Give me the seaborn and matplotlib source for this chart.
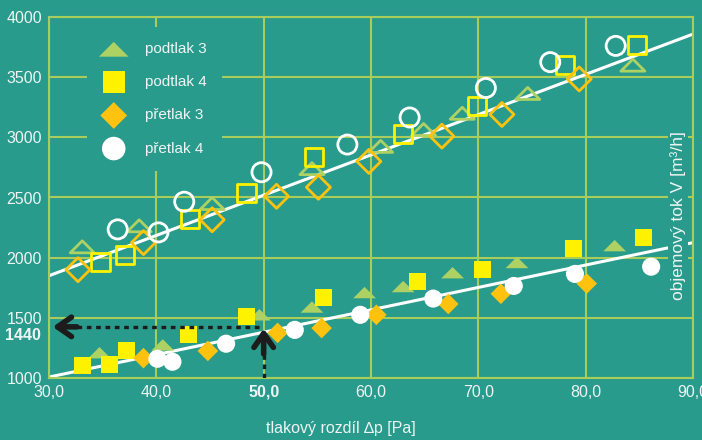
import numpy as np
import pandas as pd
import seaborn as sns
import matplotlib.pyplot as plt
from matplotlib.path import Path

# values: tlakovy rozdil [Pa] -> objemovy tok [m3/h]
# upper group is drawn hollow, lower group filled
pod3_hi_x = [33.1, 38.4, 45.2, 54.5, 60.9, 64.9, 68.5, 74.6, 84.4]
pod3_hi_y = [2090, 2265, 2450, 2740, 2925, 3065, 3200, 3365, 3600]
pod4_hi_x = [34.8, 37.1, 43.1, 48.4, 54.7, 63.0, 69.9, 78.1, 84.8]
pod4_hi_y = [1965, 2025, 2325, 2540, 2840, 3025, 3260, 3600, 3765]
pre3_hi_x = [32.7, 38.8, 45.2, 51.2, 55.1, 59.8, 66.6, 72.2, 79.4]
pre3_hi_y = [1900, 2125, 2315, 2510, 2585, 2800, 3010, 3190, 3485]
pre4_hi_x = [36.4, 40.2, 42.6, 49.8, 57.8, 63.6, 70.7, 76.7, 82.8]
pre4_hi_y = [2235, 2210, 2465, 2710, 2940, 3165, 3410, 3625, 3760]

pod3_lo_x = [34.7, 40.6, 49.6, 54.5, 59.4, 63.0, 67.6, 73.6, 82.7]
pod3_lo_y = [1210, 1275, 1525, 1590, 1710, 1760, 1875, 1960, 2100]
pod4_lo_x = [33.1, 35.6, 37.2, 43.0, 48.4, 55.6, 64.3, 70.4, 78.9, 85.4]
pod4_lo_y = [1100, 1110, 1225, 1365, 1510, 1665, 1800, 1900, 2075, 2165]
pre3_lo_x = [38.8, 44.8, 51.3, 55.4, 60.5, 67.2, 72.1, 80.1]
pre3_lo_y = [1165, 1225, 1375, 1415, 1525, 1615, 1700, 1785]
pre4_lo_x = [40.1, 41.5, 46.5, 52.9, 59.0, 65.8, 73.3, 79.0, 86.1]
pre4_lo_y = [1160, 1135, 1285, 1400, 1525, 1660, 1765, 1865, 1925]

# trend lines (end points)
fit_x = [30, 90]
fit_hi_y = [1850, 3858]
fit_lo_y = [1008, 2125]

labels = ["podtlak 3", "podtlak 4", "přetlak 3", "přetlak 4"]
x_ticks = [30, 40, 50, 60, 70, 80, 90]
y_ticks = [1000, 1500, 2000, 2500, 3000, 3500, 4000]
mark_x, mark_y = 50, 1425   # the 50,0 Pa -> 1440 m3/h reading

bg = "#289b8d"
grid_c = "#a9cd5a"
txt_c = "#eef5f3"
colors = ["#add163", "#fff200", "#ffc20e", "#ffffff"]
flat_tri = Path([(-1, -0.5), (1, -0.5), (0, 0.5), (-1, -0.5)],
                [Path.MOVETO, Path.LINETO, Path.LINETO, Path.CLOSEPOLY])
markers = [flat_tri, "s", "D", "o"]
sizes_lo = [270, 150, 110, 170]
sizes_hi = [300, 170, 150, 190]

sns.set_style("white", {"axes.facecolor": bg, "figure.facecolor": bg})
plt.rcParams["font.family"] = ["Liberation Sans", "DejaVu Sans"]

fig = plt.figure(figsize=(7.02, 4.4), dpi=100)
ax = fig.add_axes([49 / 702, 62 / 440, 644 / 702, 361 / 440])

sns.lineplot(x=fit_x, y=fit_hi_y, color="white", lw=2.2, ax=ax, zorder=2)
sns.lineplot(x=fit_x, y=fit_lo_y, color="white", lw=2.2, ax=ax, zorder=2)

hi = [(pod3_hi_x, pod3_hi_y), (pod4_hi_x, pod4_hi_y), (pre3_hi_x, pre3_hi_y), (pre4_hi_x, pre4_hi_y)]
lo = [(pod3_lo_x, pod3_lo_y), (pod4_lo_x, pod4_lo_y), (pre3_lo_x, pre3_lo_y), (pre4_lo_x, pre4_lo_y)]

for (xs, ys), c, m, s in zip(hi, colors, markers, sizes_hi):
    sns.scatterplot(x=xs, y=ys, marker=m, s=s, facecolor="none", edgecolor=c,
                    linewidth=2, ax=ax, zorder=3)

for (xs, ys), c, m, s, lab in zip(lo, colors, markers, sizes_lo, labels):
    sns.scatterplot(x=xs, y=ys, marker=m, s=s, color=c, edgecolor="none",
                    linewidth=0, ax=ax, zorder=3, label=lab)

# dotted reading arrows
ink = "#1c1c1c"
head = dict(arrowstyle="->,head_length=1.0,head_width=0.7", color=ink, lw=4,
            shrinkA=0, shrinkB=0)
ax.annotate("", xy=(30.35, mark_y), xytext=(32.6, mark_y), arrowprops=head, zorder=4)
ax.plot([32.6, mark_x - 0.2], [mark_y, mark_y], color=ink, lw=2.4, ls=(0, (1.4, 1.4)), zorder=4)
ax.annotate("", xy=(mark_x, 1410), xytext=(mark_x, 1200), arrowprops=head, zorder=4)
ax.plot([mark_x, mark_x], [1000, 1200], color=ink, lw=2.4, ls=(0, (1.4, 1.4)), zorder=4)

ax.set_xlim(30, 90)
ax.set_ylim(1000, 4000)
ax.set_xticks(x_ticks)
ax.set_yticks(y_ticks)
ax.set_xticklabels([f"{v:.1f}".replace(".", ",") for v in x_ticks])
ax.set_yticklabels([str(v) for v in y_ticks])
ax.tick_params(length=0, labelsize=11.5, colors=txt_c, pad=5)
ax.get_xticklabels()[2].set_fontweight("bold")
ax.annotate("1440", xy=(0, 1350), xycoords=("axes fraction", "data"), xytext=(-8, 0),
            textcoords="offset pixels", ha="right", va="center", color=txt_c,
            fontsize=11.5, fontweight="bold")

ax.grid(True, color=grid_c, lw=1.5)
ax.set_axisbelow(True)
for sp in ax.spines.values():
    sp.set_visible(True)
    sp.set_color(grid_c)
    sp.set_linewidth(1.5)

ax.set_xlabel("tlakový rozdíl ∆p [Pa]", color=txt_c, fontsize=11.5)
ax.xaxis.set_label_coords((341 - 49) / 644, -(421 - 378) / 361)
ax.set_ylabel("")
ax.text(0.977, 0.45, "objemový tok V [m³/h]", transform=ax.transAxes, rotation=90,
        ha="center", va="center", color=txt_c, fontsize=12.5, zorder=6,
        bbox=dict(facecolor=bg, edgecolor="none", pad=1.5))

leg = ax.legend(loc="upper left", bbox_to_anchor=((87 - 49) / 644, (378 - 27) / 361),
                borderaxespad=0, frameon=True, facecolor=bg, edgecolor="none",
                framealpha=1, fancybox=False, fontsize=11, labelcolor=txt_c,
                labelspacing=1.25, handlelength=1.5, handletextpad=1.3,
                borderpad=1.0, markerscale=1.3)

fig.savefig("out.png", dpi=100, facecolor=bg)
